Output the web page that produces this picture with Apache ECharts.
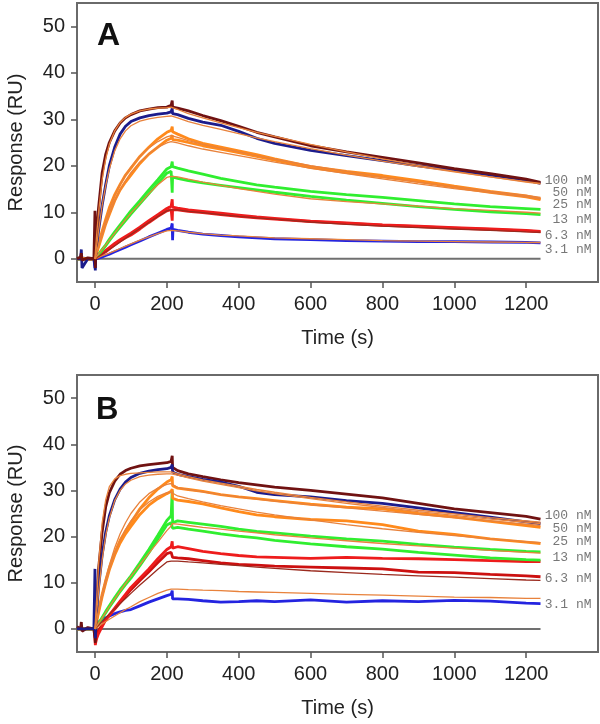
<!DOCTYPE html>
<html>
<head>
<meta charset="utf-8">
<script src="https://cdn.jsdelivr.net/npm/echarts@6/dist/echarts.min.js"></script>
<style>
html,body{margin:0;padding:0;background:#fff;}
#c{width:600px;height:724px;}
</style>
</head>
<body>
<div id="c"></div>
<script>
// Shared time points (s)
var T = [-50,-40,-38,-36,-20,-3, 0,1,2,5, 10,20,30,40,55,70,85,100,125,150,175,200, 212,215,216,217, 230,260,300,350,400,450,500,600,700,800,900,1000,1100,1200,1240];

var X_TICKS = [0,200,400,600,800,1000,1200];
var Y_TICKS = [0,10,20,30,40,50];
var ZERO_T = [-50,1240];
var ZERO_V = [0,0];

var CONC_LABELS = ['100 nM','50 nM','25 nM','13 nM','6.3 nM','3.1 nM'];
var LABEL_T = 1382;
var LABEL_Y_A = [16.8,14.2,11.6,8.4,4.9,1.9];
var LABEL_Y_B = [24.6,21.8,18.9,15.5,10.9,5.2];

// ---------- Panel A : measured sensorgrams ----------
var A_BROWN = [0,0.4,1.2,-0.3,0.2,0, 10.3,-2,1.5,6, 11,18.5,22.5,25,27.5,29.2,30.3,31,31.8,32.2,32.5,32.6, 33,34,32.6,32.7, 32.4,31.8,30.8,29.7,28.5,27.2,26.2,24.3,23,21.8,20.6,19.4,18.3,17.1,16.4];
var A_NAVY  = [0,0,2,-2,0,0, -1.5,-2.5,0,3, 6,11.5,16,20,24,26.8,28.5,29.5,30.3,30.8,31.1,31.3, 31.6,32.3,31.2,31.2, 31,30.2,29.4,28.7,27.4,25.9,24.8,23.3,22.2,21.1,20,19,18,16.9,16.2];
var A_OR1   = [0,0.2,0,0.1,-0.2,0, 0,0.3,0.8,1.6, 3,6,8.5,11,13.8,16,18,19.5,22,24,25.8,27.2, 27.6,28.4,27.3,27.2, 26.8,25.8,24.8,24,23.2,22.4,21.5,19.8,18.8,17.9,16.8,15.6,14.5,13.5,12.9];
var A_OR2   = [0,0,0,0,0,0, 0,0.2,0.6,1.3, 2.5,5,7.5,9.5,12.5,14.8,16.5,18,20.5,22.5,24,25.5, 25.9,26.6,25.6,25.6, 25.5,25,24.3,23.6,22.8,22,21.2,19.6,18.5,17.6,16.6,15.4,14.3,13.3,12.7];
var A_GR1   = [0,0,0,0,0,0, 0,0.1,0.2,0.5, 1,2,3,4.2,5.8,7.3,8.8,10.3,12.5,14.8,17,19.3, 19.8,20.9,19.8,19.8, 19.5,18.9,18.2,17.3,16.6,15.9,15.4,14.5,13.8,13.2,12.5,11.8,11.2,10.8,10.6];
var A_GR2   = [0,0,0,0,0,0, 0,0.1,0.2,0.4, 0.9,1.8,2.8,3.9,5.4,6.8,8.2,9.6,11.8,14,16.2,18.4, 18.8,14.2,17.6,17.5, 17.3,16.8,16.3,15.8,15.3,14.8,14.3,13.4,12.6,11.9,11.2,10.6,10.1,9.7,9.5];
var A_RD1   = [0,0,0.3,-0.3,0,0, 0,0,0.2,0.3, 0.6,1.2,1.8,2.4,3.3,4.1,4.8,5.5,6.8,8.2,9.5,10.8, 11.3,12.8,11.1,11.1, 10.9,10.5,10.2,9.8,9.4,9.0,8.7,8.1,7.7,7.3,7.0,6.7,6.4,6.1,5.9];
var A_RD2   = [0,0,0,0,0,0, 0,0,0.1,0.2, 0.5,1.0,1.5,2.1,3.0,3.8,4.5,5.1,6.4,7.8,9.1,10.3, 10.6,8.2,10.5,10.6, 10.5,10.2,9.9,9.5,9.1,8.8,8.5,8.0,7.6,7.2,6.9,6.6,6.3,6.0,5.8];
var A_BL    = [0,0.2,0,0.3,0,0, -2,-0.8,0,0, 0.1,0.4,0.7,1.0,1.5,2.0,2.5,3.0,3.8,4.7,5.5,6.3, 6.6,7.6,4.0,6.3, 6.1,5.7,5.3,5.0,4.7,4.5,4.3,4.1,3.9,3.8,3.7,3.7,3.6,3.5,3.4];

// ---------- Panel A : fitted curves ----------
var N6 = [null,null,null,null,null,null];
var FA_1 = N6.concat([0,1.2,2.4,5.5, 10,17,21.5,24.6,27.5,29.3,30.4,31.1,31.8,32.2,32.4,32.5, 32.6,32.6,32.6,32.5, 32.1,31.2,30.3,29.2,28.2,27.2,26.3,24.6,23,21.5,20.1,18.8,17.6,16.5,16.1]);
var FA_2 = N6.concat([0,0.6,1.2,3, 6,11.5,15.8,19.3,23.2,25.8,27.5,28.6,29.6,30.1,30.4,30.6, 30.7,30.7,30.7,30.6, 30.3,29.5,28.7,27.8,26.9,26.0,25.2,23.7,22.3,21.0,19.8,18.7,17.6,16.6,16.2]);
var FA_3 = N6.concat([0,0.3,0.6,1.5, 3,5.8,8.3,10.6,13.6,16,18,19.7,22,23.8,25.2,26.2, 26.5,26.6,26.6,26.5, 26.1,25.4,24.6,23.8,23,22.2,21.4,20,18.8,17.6,16.5,15.5,14.5,13.6,13.2]);
var FA_4 = N6.concat([0,0.25,0.5,1.3, 2.6,5.1,7.4,9.6,12.4,14.8,16.8,18.5,20.8,22.6,24,24.9, 25.2,25.3,25.3,25.2, 24.9,24.3,23.6,22.9,22.2,21.5,20.8,19.5,18.3,17.2,16.1,15.1,14.2,13.3,12.9]);
var FA_5 = N6.concat([0,0.1,0.2,0.5, 1,2,3,4,5.5,7,8.4,9.8,11.9,14,15.9,17.5, 17.7,17.8,17.8,17.8, 17.6,17.1,16.5,15.8,15.1,14.5,13.9,12.9,12.3,11.8,11.3,10.8,10.4,10.0,9.8]);
var FA_6 = N6.concat([0,0,0.1,0.3, 0.5,1.0,1.5,2.0,2.8,3.6,4.4,5.2,6.5,7.8,9.1,10.3, 10.5,10.6,10.6,10.6, 10.5,10.2,9.9,9.5,9.1,8.8,8.5,7.9,7.4,7.0,6.7,6.4,6.1,5.8,5.7]);
var FA_7 = N6.concat([0,0,0,0.1, 0.3,0.6,0.9,1.2,1.7,2.2,2.7,3.2,4.0,4.7,5.4,6.0, 6.1,6.2,6.2,6.2, 6.0,5.7,5.4,5.1,4.9,4.7,4.5,4.3,4.1,3.9,3.8,3.7,3.6,3.5,3.5]);

// ---------- Panel B : measured sensorgrams ----------
var B_BROWN = [0.5,0,1.5,-0.5,0.3,0, -2,-3,0,6, 13,21,26.5,29.5,32,33.5,34.3,34.8,35.3,35.6,35.8,36, 36.3,37.5,35,34.8, 34.3,33.6,33,32.3,31.7,31.2,30.7,30,29.2,28.4,27.2,26,25.2,24.4,23.8];
var B_NAVY  = [0,0,0,0,0,0, 13,-2,1,4, 9,16,21,24.5,28,30.3,31.8,32.8,33.7,34.2,34.5,34.7, 35,35.6,34,33.8, 33.5,33,32.4,31.8,30.9,29.6,29.1,28.6,27.8,27.2,26.2,25.2,24.2,23.2,22.8];
var B_OR1   = [0,0,0,0,0,0, 0,0.3,1,2, 4,7.5,10.5,13.2,16.5,19.2,21.2,23,26,28.4,30.3,31.8, 32.3,33,31,30.8, 30.5,30.2,29.8,29.1,28.6,28.2,27.8,27,26.4,26,25,24.2,23.3,22.4,22];
var B_OR2   = [0,0,0,0,0,0, 0,0.3,0.8,1.8, 3.5,7,10,12.8,16,18.6,20.6,22.2,24.8,26.8,28.2,29.3, 29.8,30.3,28.3,28.1, 27.9,27.6,27.1,26.2,25.4,24.7,24.3,23.7,23.4,22.6,21.2,20.5,19.5,18.8,18.5];
var B_GR1   = [0,0,0,0,0,0, 0,0.2,0.4,0.7, 1.2,2.5,3.8,5,6.8,8.5,10,11.5,14.3,17.2,20.3,23.5, 24.5,30,23,23.3, 23.4,23.1,22.7,22.2,21.6,21.1,20.8,20.1,19.5,19,18.3,17.7,17.2,16.8,16.7];
var B_GR2   = [0,0,0,0,0,0, 0,0.2,0.3,0.6, 1.1,2.3,3.5,4.7,6.4,8.1,9.6,11,13.7,16.5,19.5,22.5, 23,23.4,21.8,22, 22,21.6,21.2,20.6,20.1,19.7,19.2,18.4,17.8,17.3,16.6,16,15.4,15,14.9];
var B_RD1   = [0,0,0,0,0,0, -2,-3.5,-3,-2, -1,0.5,2,3,4.5,6,7.5,9,11,13,15.2,17.2, 17.8,19,17.5,17.8, 17.8,17.4,16.8,16.3,15.9,15.6,15.5,15.3,15.5,15.3,15.2,15,14.8,14.6,14.6];
var B_RD2   = [0,0,0,0,0,0, -1,-2,-1.5,-1, -0.3,0.8,2,3,4.3,5.7,7.1,8.5,10.5,12.4,14.4,16.3, 16.6,16.8,15.5,15.4, 15.4,15.2,14.8,14.3,14,13.8,13.6,13.4,13.2,13,12.3,12.2,11.8,11.5,11.3];
var B_BL    = [0,0,0,0,0,0, 1,1,1.1,1.2, 1.5,2,2.4,2.8,3.3,3.7,4,4.2,5,5.8,6.5,7.2, 7.5,8.3,6.5,6.8, 6.5,6.4,6.1,5.8,5.9,6.1,5.9,6.3,5.8,6.1,5.9,6.2,6,5.6,5.5];

// ---------- Panel B : fitted curves ----------
var FB_1 = N6.concat([0,1.4,2.8,7, 14,23,28,30.8,32.5,33.2,33.5,33.7,33.8,33.9,34,34, 34,34,34,34, 33.6,33,32.3,31.6,30.9,30.2,29.6,28.5,27.5,26.6,25.7,24.9,24.1,23.4,23.1]);
var FB_2 = N6.concat([0,0.8,1.6,4, 8,15,20.3,24,27.8,30,31.4,32.2,33,33.3,33.5,33.6, 33.6,33.6,33.6,33.6, 33.3,32.7,32,31.3,30.6,29.9,29.3,28.2,27.2,26.3,25.4,24.6,23.8,23.1,22.8]);
var FB_3 = N6.concat([0,0.4,0.8,2, 4,7.6,10.9,13.8,17.6,20.6,23,25,27.5,29.3,30.5,31.3, 31.5,31.5,31.5,31.5, 30.6,30.2,29.7,29.1,28.6,28.1,27.7,26.9,26.2,25.5,24.8,24.1,23.4,22.7,22.4]);
var FB_4 = N6.concat([0,0.35,0.7,1.8, 3.6,7,10,12.8,16.3,19.1,21.5,23.4,25.8,27.5,28.7,29.5, 29.6,29.6,29.6,29.6, 28.8,28.2,27.5,26.7,26,25.3,24.7,23.6,22.6,21.7,20.9,20.2,19.5,18.9,18.7]);
var FB_5 = N6.concat([0,0.1,0.2,0.6, 1.2,2.4,3.6,4.8,6.5,8.2,9.8,11.4,13.9,16.4,18.8,21.3, 22.3,22.8,22.8,22.8, 22.7,22.4,22,21.6,21.2,20.8,20.4,19.7,19.1,18.5,18,17.5,17,16.6,16.4]);
var FB_6 = N6.concat([0,0.1,0.2,0.4, 0.8,1.6,2.4,3.2,4.4,5.5,6.6,7.7,9.5,11.2,12.9,14.5, 14.7,14.7,14.7,14.7, 14.7,14.5,14.3,14,13.7,13.4,13.1,12.6,12.2,11.8,11.5,11.2,10.9,10.6,10.5]);
var FB_7 = N6.concat([0,0.1,0.1,0.3, 0.5,1.1,1.6,2.1,2.8,3.5,4.2,4.8,5.9,6.8,7.7,8.4, 8.6,8.7,8.7,8.7, 8.6,8.5,8.4,8.3,8.1,8,7.9,7.7,7.5,7.3,7.1,6.9,6.8,6.6,6.6]);

// ---------- styling ----------
var C = {brown:'#701212', navy:'#1c1c8c', orange:'#ff8a1c', green:'#30ee30', red:'#ee1c1c', dred:'#cc1010', blue:'#2424e0', fitO:'#e8823c', fitD:'#9a2a1e'};
var FONT = 'Liberation Sans, Arial, sans-serif';

function pairs(xs, ys){ var out=[]; for (var i=0;i<xs.length;i++){ out.push([xs[i], ys[i]]); } return out; }
function line(ys, color, width, gi){
  return {type:'line', xAxisIndex:gi, yAxisIndex:gi, data:pairs(T, ys), showSymbol:false, symbol:'none',
    lineStyle:{color:color, width:width}, emphasis:{disabled:true}, silent:true, animation:false, z: width>2?3:4};
}
function zero(gi){
  return {type:'line', xAxisIndex:gi, yAxisIndex:gi, data:pairs(ZERO_T, ZERO_V), symbol:'none',
    lineStyle:{color:'#707070', width:2}, silent:true, animation:false, z:2};
}
function labels(ys, gi){
  var d=[]; for (var i=0;i<CONC_LABELS.length;i++){ d.push({name:CONC_LABELS[i], value:[LABEL_T, ys[i]]}); }
  return {type:'scatter', xAxisIndex:gi, yAxisIndex:gi, data:d, symbolSize:0, silent:true, animation:false,
    label:{show:true, position:'left', distance:0, formatter:'{b}', fontFamily:'Liberation Mono, Courier New, monospace',
      fontSize:13, color:'#555'}};
}
function plain(v){ return String(v); }
function xAxis(gi){
  return {type:'value', gridIndex:gi, min:-50, max:1400, name:'Time (s)', nameLocation:'middle', nameGap:46,
    nameTextStyle:{fontFamily:FONT, fontSize:20, color:'#222'},
    axisLine:{show:false, onZero:false}, splitLine:{show:false},
    axisTick:{show:true, inside:false, customValues:X_TICKS, length:6, lineStyle:{color:'#555', width:1.5}},
    axisLabel:{customValues:X_TICKS, formatter:plain, fontFamily:FONT, fontSize:20, color:'#222', margin:12}};
}
function yAxis(gi){
  return {type:'value', gridIndex:gi, min:-5, max:55, name:'Response (RU)', nameLocation:'middle', nameGap:51,
    nameTextStyle:{fontFamily:FONT, fontSize:20, color:'#222'},
    axisLine:{show:false, onZero:false}, splitLine:{show:false},
    axisTick:{show:true, inside:false, customValues:Y_TICKS, length:6, lineStyle:{color:'#555', width:1.5}},
    axisLabel:{customValues:Y_TICKS, formatter:plain, fontFamily:FONT, fontSize:20, color:'#222', margin:12}};
}

var series = [zero(0), zero(1)];
// panel A data
[[A_BL,C.blue],[A_RD2,C.red],[A_RD1,C.red],[A_GR2,C.green],[A_GR1,C.green],[A_OR2,C.orange],[A_OR1,C.orange],[A_NAVY,C.navy],[A_BROWN,C.brown]]
  .forEach(function(s){ series.push(line(s[0], s[1], 2.8, 0)); });
[[FA_7,C.fitO],[FA_6,C.fitD],[FA_5,C.fitO],[FA_4,C.fitO],[FA_3,C.fitO],[FA_2,C.fitO],[FA_1,C.fitO]]
  .forEach(function(s){ series.push(line(s[0], s[1], 1.3, 0)); });
// panel B data
[[B_BL,C.blue],[B_RD2,C.dred],[B_RD1,C.red],[B_GR2,C.green],[B_GR1,C.green],[B_OR2,C.orange],[B_OR1,C.orange],[B_BROWN,C.brown],[B_NAVY,C.navy]]
  .forEach(function(s){ series.push(line(s[0], s[1], 2.8, 1)); });
[[FB_7,C.fitO],[FB_6,C.fitD],[FB_5,C.fitO],[FB_4,C.fitO],[FB_3,C.fitO],[FB_2,C.fitO],[FB_1,C.fitO]]
  .forEach(function(s){ series.push(line(s[0], s[1], 1.3, 1)); });
series.push(labels(LABEL_Y_A, 0));
series.push(labels(LABEL_Y_B, 1));

var chart = echarts.init(document.getElementById('c'), null, {renderer:'canvas'});
chart.setOption({
  animation:false,
  backgroundColor:'#ffffff',
  grid:[
    {left:77, top:3, width:521, height:279, show:true, borderColor:'#6a6a6a', borderWidth:2, backgroundColor:'transparent', containLabel:false, outerBoundsMode:'none'},
    {left:77, top:375, width:521, height:277, show:true, borderColor:'#6a6a6a', borderWidth:2, backgroundColor:'transparent', containLabel:false, outerBoundsMode:'none'}
  ],
  xAxis:[xAxis(0), xAxis(1)],
  yAxis:[yAxis(0), yAxis(1)],
  graphic:[
    {type:'text', left:97, top:20, style:{text:'A', font:'bold 32px ' + FONT, fill:'#111'}},
    {type:'text', left:96, top:395, style:{text:'B', font:'bold 31px ' + FONT, fill:'#111'}}
  ],
  series:series
});
</script>
</body>
</html>
